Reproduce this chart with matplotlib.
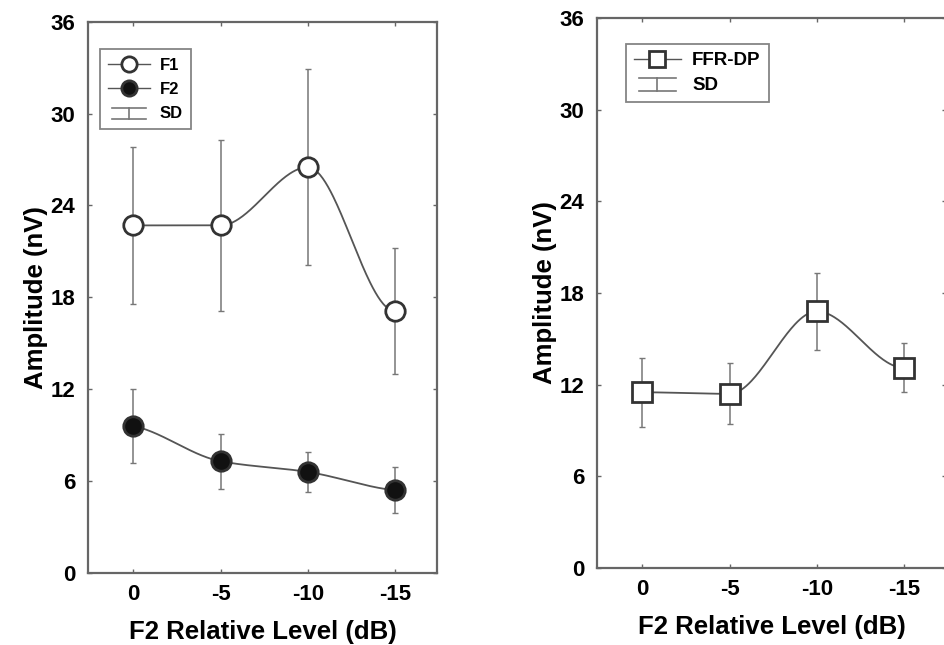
import numpy as np
import matplotlib
matplotlib.use("Agg")
import matplotlib.pyplot as plt
from matplotlib.lines import Line2D
from matplotlib.legend_handler import HandlerBase

plt.rcParams['font.family'] = ['Liberation Sans', 'DejaVu Sans']
plt.rcParams['font.weight'] = 'bold'

# data
levels = ['0', '-5', '-10', '-15']
f1_mean = [22.7, 22.7, 26.5, 17.1]
f1_sd = [5.1, 5.6, 6.4, 4.1]
f2_mean = [9.6, 7.3, 6.6, 5.4]
f2_sd = [2.4, 1.8, 1.3, 1.5]
ffr_mean = [11.5, 11.4, 16.8, 13.1]
ffr_sd = [2.25, 2.0, 2.5, 1.6]

LINE = '#555555'
BAR = '#777777'
SPINE = '#666666'


def pchip(x, y, n=200):
    """Shape-preserving cubic through the points (for the smooth curve)."""
    x = np.asarray(x, float)
    y = np.asarray(y, float)
    h = np.diff(x)
    d = np.diff(y) / h
    m = np.zeros_like(y)
    for i in range(1, len(y) - 1):
        if d[i - 1] * d[i] > 0:
            w1 = 2 * h[i] + h[i - 1]
            w2 = h[i] + 2 * h[i - 1]
            m[i] = (w1 + w2) / (w1 / d[i - 1] + w2 / d[i])
    m[0] = 0.5 * d[0] if d[0] * d[1] > 0 else 0.0
    m[-1] = 0.5 * d[-1] if d[-1] * d[-2] > 0 else 0.0
    xs = np.linspace(x[0], x[-1], n)
    idx = np.clip(np.searchsorted(x, xs) - 1, 0, len(x) - 2)
    t = (xs - x[idx]) / h[idx]
    h00 = 2 * t**3 - 3 * t**2 + 1
    h10 = t**3 - 2 * t**2 + t
    h01 = -2 * t**3 + 3 * t**2
    h11 = t**3 - t**2
    ys = h00 * y[idx] + h10 * h[idx] * m[idx] + h01 * y[idx + 1] + h11 * h[idx] * m[idx + 1]
    return xs, ys


class HandlerSD(HandlerBase):
    # I-beam symbol used for the SD entry
    def create_artists(self, legend, orig_handle, xdescent, ydescent,
                       width, height, fontsize, trans):
        x0 = -xdescent + 0.1 * width
        x1 = -xdescent + 0.9 * width
        xm = (x0 + x1) / 2
        y0 = -ydescent - 0.1 * height
        y1 = -ydescent + 0.9 * height
        arts = [Line2D([x0, x1], [y1, y1]), Line2D([xm, xm], [y0, y1]),
                Line2D([x0, x1], [y0, y0])]
        for a in arts:
            a.set_color(BAR)
            a.set_linewidth(1.2)
            a.set_transform(trans)
        return arts


def style_axes(ax):
    ax.set_xlim(-0.52, 3.48)
    ax.set_ylim(0, 36)
    ax.set_xticks(range(len(levels)))
    ax.set_xticklabels(levels)
    ax.set_yticks(np.arange(0, 37, 6))
    ax.tick_params(direction='in', length=3, width=1, color=SPINE,
                   top=True, right=True, labelsize=16, pad=8)
    ax.tick_params(axis='y', pad=9)
    for s in ax.spines.values():
        s.set_color(SPINE)
        s.set_linewidth(1.6)
    ax.set_xlabel('F2 Relative Level (dB)', fontsize=18.5, fontweight='bold', labelpad=11)
    ax.set_ylabel('Amplitude (nV)', fontsize=18.5, fontweight='bold', labelpad=2)


fig = plt.figure(figsize=(9.44, 6.45), dpi=100)
ax1 = fig.add_axes([0.0932, 0.1116, 0.3697, 0.8547])
ax2 = fig.add_axes([0.6324, 0.1194, 0.3697, 0.8527])

x = np.arange(len(levels))

# left panel: F1 and F2
xs, ys = pchip(x, f1_mean)
ax1.plot(xs, ys, color=LINE, lw=1.3, zorder=2)
xs, ys = pchip(x, f2_mean)
ax1.plot(xs, ys, color=LINE, lw=1.3, zorder=2)
ax1.errorbar(x, f1_mean, yerr=f1_sd, fmt='none', ecolor=BAR, elinewidth=1.1,
             capsize=2, capthick=1, zorder=1)
ax1.errorbar(x, f2_mean, yerr=f2_sd, fmt='none', ecolor=BAR, elinewidth=1.1,
             capsize=2, capthick=1, zorder=1)
ax1.plot(x, f1_mean, 'o', ms=14, mfc='white', mec='#333333', mew=2, zorder=3)
ax1.plot(x, f2_mean, 'o', ms=14, mfc='#111111', mec='#333333', mew=2, zorder=3)
style_axes(ax1)

sd_h = Line2D([], [])
h_f1 = Line2D([], [], color=LINE, lw=1, marker='o', ms=11, mfc='white',
              mec='#333333', mew=2)
h_f2 = Line2D([], [], color=LINE, lw=1, marker='o', ms=11, mfc='#111111',
              mec='#333333', mew=2)
leg1 = ax1.legend([h_f1, h_f2, sd_h], ['F1', 'F2', 'SD'], loc='upper left',
                  bbox_to_anchor=(0.01, 0.965), fontsize=12, frameon=True,
                  fancybox=False, edgecolor=SPINE, handlelength=2.5,
                  handletextpad=0.6, labelspacing=0.55, borderpad=0.5,
                  handler_map={sd_h: HandlerSD()})
leg1.get_frame().set_linewidth(1.3)

# right panel: FFR-DP
xs, ys = pchip(x, ffr_mean)
ax2.plot(xs, ys, color=LINE, lw=1.3, zorder=2)
ax2.errorbar(x, ffr_mean, yerr=ffr_sd, fmt='none', ecolor=BAR, elinewidth=1.1,
             capsize=2, capthick=1, zorder=1)
ax2.plot(x, ffr_mean, 's', ms=14, mfc='white', mec='#333333', mew=2, zorder=3)
style_axes(ax2)

sd_h2 = Line2D([], [])
h_ffr = Line2D([], [], color=LINE, lw=1, marker='s', ms=11, mfc='white',
               mec='#333333', mew=2)
leg2 = ax2.legend([h_ffr, sd_h2], ['FFR-DP', 'SD'], loc='upper left',
                  bbox_to_anchor=(0.055, 0.97), fontsize=13.5, frameon=True,
                  fancybox=False, edgecolor=SPINE, handlelength=2.5,
                  handletextpad=0.6, labelspacing=0.4, borderpad=0.45,
                  handler_map={sd_h2: HandlerSD()})
leg2.get_frame().set_linewidth(1.3)

fig.savefig('out.png', dpi=100, facecolor='white')
